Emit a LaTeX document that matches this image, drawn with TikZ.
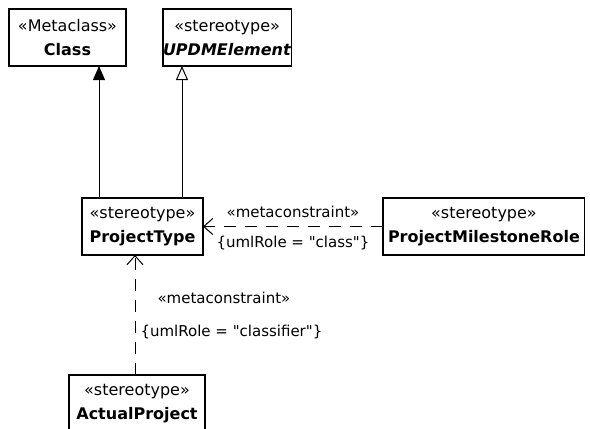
\documentclass[tikz,border=0pt]{standalone}
\usepackage{fontspec}
\setmainfont{DejaVu Sans}
\usetikzlibrary{positioning,arrows.meta}

\begin{document}
\begin{tikzpicture}[
	x=1pt, y=-1pt,
	umlbox/.style = {
		draw, rectangle, align=center, line width=1.2pt,
		font=\fontsize{16}{24}\selectfont, inner xsep=5pt, inner ysep=0pt,
		minimum height=57pt, outer sep=0pt},
	mylabel/.style = {font=\fontsize{15}{18}\selectfont, inner sep=0pt},
	gen/.style = {line width=1pt, -{Triangle[width=12pt,length=14pt]}},
	genopen/.style = {line width=1pt, -{Triangle[open,width=12pt,length=14pt]}},
	dep/.style = {line width=1pt, dash pattern=on 12pt off 9pt,
		-{Straight Barb[length=9pt,width=16pt]}}
]
\useasboundingbox (0,0) rectangle (590,429);

\node (cls)    [umlbox, minimum width=117pt, anchor=north west] at (9,9)
	{«Metaclass»\\\textbf{Class}};
\node (updm)   [umlbox, inner xsep=0pt, minimum width=128pt, right=37pt of cls]
	{«stereotype»\\\textbf{\textit{UPDMElement}}};
\node (ptype)  [umlbox, minimum width=121pt, anchor=north west] at (82,198)
	{«stereotype»\\\textbf{ProjectType}};
\node (pmrole) [umlbox, right=180pt of ptype]
	{«stereotype»\\\textbf{ProjectMilestoneRole}};
\node (aproj)  [umlbox, minimum width=136pt, anchor=north west] at (69,375)
	{«stereotype»\\\textbf{ActualProject}};

\draw[gen] ([xshift=17pt]ptype.north west) coordinate (b) -- (b |- cls.south);
\draw[genopen] ([xshift=-21pt]ptype.north east) coordinate (b) -- (b |- updm.south);
\draw[dep] (pmrole) -- (ptype)
	node[mylabel, midway, above=8pt] {«metaconstraint»}
	node[mylabel, midway, below=9pt] {\{umlRole = \textquotedbl class\textquotedbl\}};
\draw[dep] ([xshift=66pt]aproj.north west) coordinate (b) -- (b |- ptype.south)
	node[mylabel, midway, anchor=west, xshift=22pt, yshift=17pt] {«metaconstraint»}
	node[mylabel, midway, anchor=west, xshift=5pt, yshift=-17pt]
		{\{umlRole = \textquotedbl classifier\textquotedbl\}};
\end{tikzpicture}
\end{document}
